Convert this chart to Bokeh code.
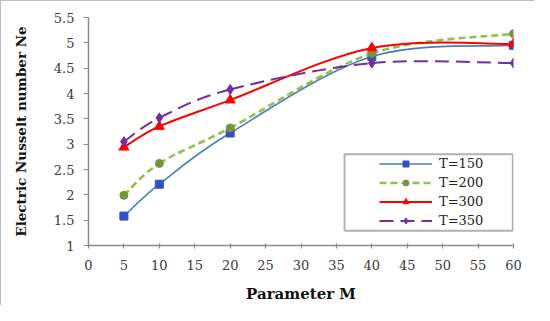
import numpy as np
from bokeh.plotting import figure
from bokeh.models import (Range1d, ColumnDataSource, Legend, LegendItem,
                          BoxAnnotation, FixedTicker)
from bokeh.embed import file_html
from bokeh.resources import INLINE

# ---- data ----
M = [5, 10, 20, 40, 60]
ne_150 = [1.58, 2.21, 3.22, 4.73, 4.95]
ne_200 = [1.99, 2.62, 3.32, 4.79, 5.18]
ne_300 = [2.94, 3.35, 3.87, 4.90, 4.98]
ne_350 = [3.05, 3.52, 4.08, 4.60, 4.60]
series_labels = ["T=150", "T=200", "T=300", "T=350"]
x_ticks = [0, 5, 10, 15, 20, 25, 30, 35, 40, 45, 50, 55, 60]
y_ticks = [1, 1.5, 2, 2.5, 3, 3.5, 4, 4.5, 5, 5.5]


def smooth_source(xs, ys, t=1.0 / 6.0):
    """Bezier segments (Excel-like smoothed line) through the data points."""
    xs = np.asarray(xs, float)
    ys = np.asarray(ys, float)
    n = len(xs)
    d = {k: [] for k in ("x0", "y0", "x1", "y1", "cx0", "cy0", "cx1", "cy1")}
    for i in range(n - 1):
        ip = max(i - 1, 0)
        inx = min(i + 2, n - 1)
        d["x0"].append(xs[i]); d["y0"].append(ys[i])
        d["x1"].append(xs[i + 1]); d["y1"].append(ys[i + 1])
        d["cx0"].append(xs[i] + (xs[i + 1] - xs[ip]) * t)
        d["cy0"].append(ys[i] + (ys[i + 1] - ys[ip]) * t)
        d["cx1"].append(xs[i + 1] - (xs[inx] - xs[i]) * t)
        d["cy1"].append(ys[i + 1] - (ys[inx] - ys[i]) * t)
    return ColumnDataSource(d)


p = figure(width=534, height=305,
           x_range=Range1d(0, 60), y_range=Range1d(1, 5.5),
           output_backend="svg", toolbar_location=None,
           min_border_left=88, min_border_right=21,
           min_border_top=17, min_border_bottom=58)
p.styles = {"outline": "2px solid #a6a6a6", "outline-offset": "-2px"}
p.xgrid.visible = False
p.ygrid.visible = False
p.outline_line_color = None
p.background_fill_color = "white"

axis_color = "#8a8a8a"
tick_font = "DejaVu Serif"

p.xaxis.ticker = FixedTicker(ticks=x_ticks)
p.yaxis.ticker = FixedTicker(ticks=y_ticks)
p.yaxis.major_label_overrides = {v: f"{v:g}" for v in y_ticks}
for ax in (p.xaxis, p.yaxis):
    ax.axis_line_color = axis_color
    ax.axis_line_width = 1.5
    ax.major_tick_line_color = axis_color
    ax.major_tick_line_width = 1.2
    ax.minor_tick_line_color = None
    ax.major_label_text_font = tick_font
    ax.major_label_text_font_size = "13px"
    ax.major_label_text_color = "#3a3a3a"
    ax.axis_label_text_font = "DejaVu Serif"
    ax.axis_label_text_font_style = "bold"
    ax.axis_label_text_color = "#111111"

p.xaxis.major_tick_in = 2
p.xaxis.major_tick_out = 3
p.xaxis.major_label_standoff = 11
p.xaxis.axis_label = "Parameter M"
p.xaxis.axis_label_text_font_size = "15px"
p.xaxis.axis_label_standoff = 12

p.yaxis.major_tick_in = 0
p.yaxis.major_tick_out = 5
p.yaxis.major_label_standoff = 9
p.yaxis.axis_label = "Electric Nusselt number Ne"
p.yaxis.axis_label_text_font_size = "13.5px"
p.yaxis.axis_label_standoff = 22

styles = [
    dict(line="#4a7ebb", width=1.6, dash="solid", marker="square", mcolor="#3450c0", msize=8),
    dict(line="#92c050", width=2.6, dash="7 4", marker="circle", mcolor="#77933c", msize=8),
    dict(line="#ff0000", width=2.0, dash="solid", marker="triangle", mcolor="#ff0000", msize=10),
    dict(line="#7030a0", width=2.0, dash="14 7", marker="diamond", mcolor="#7030a0", msize=10),
]
series = [ne_150, ne_200, ne_300, ne_350]

items = []
for label, ys, st in zip(series_labels, series, styles):
    src = smooth_source(M, ys)
    lr = p.bezier(x0="x0", y0="y0", x1="x1", y1="y1", cx0="cx0", cy0="cy0",
                  cx1="cx1", cy1="cy1", source=src, line_color=st["line"],
                  line_width=st["width"], line_dash=st["dash"])
    mr = p.scatter(M, ys, marker=st["marker"], size=st["msize"],
                   fill_color=st["mcolor"], line_color=st["mcolor"])
    items.append(LegendItem(label=label, renderers=[lr, mr]))

legend = Legend(items=items, location=(286, 12), padding=5, spacing=4,
                glyph_width=53, glyph_height=15, label_height=15,
                label_standoff=7, border_line_alpha=0,
                background_fill_alpha=0, margin=0,
                label_text_font="DejaVu Serif", label_text_font_size="13px",
                label_text_color="#222222")
p.add_layout(legend)

p.add_layout(BoxAnnotation(left=36.15, right=59.9, top=2.80, bottom=1.29,
                           fill_alpha=0, line_color="black", line_width=2,
                           level="overlay"))

open("out.html", "w").write(file_html(p, INLINE))
